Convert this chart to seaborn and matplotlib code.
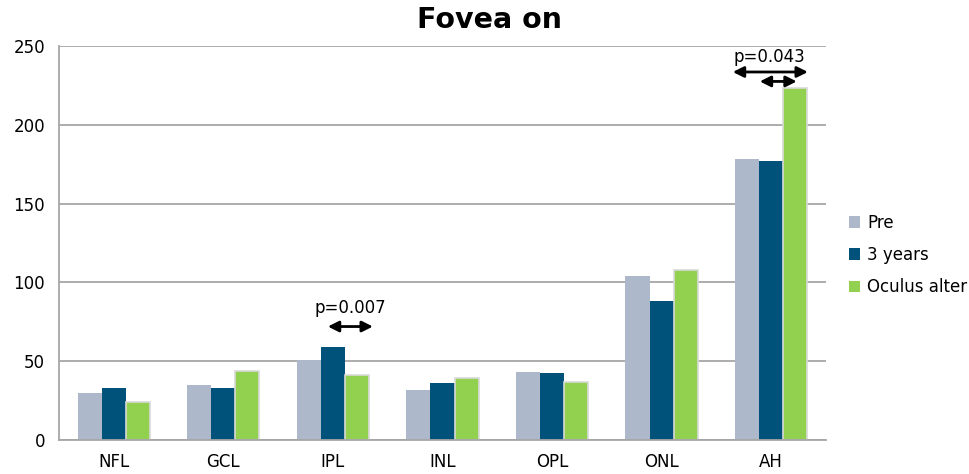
import matplotlib
matplotlib.use("Agg")
from matplotlib import pyplot as plt
import seaborn as sns
import pandas as pd

layers = ["NFL", "GCL", "IPL", "INL", "OPL", "ONL", "AH"]
groups = ["Pre", "3 years", "Oculus alter"]
pre = [30, 35, 51, 32, 43, 104, 178]
three_years = [33, 33, 59, 36, 42.5, 88, 177]
oculus_alter = [24, 44, 41, 39.5, 37, 108, 223.5]
colors = ["#ADB9CA", "#00527A", "#92D050"]

df = pd.DataFrame({
    "layer": layers * 3,
    "group": [g for g in groups for _ in layers],
    "value": pre + three_years + oculus_alter,
})

sns.set_theme(style="white")
plt.rcParams["font.family"] = ["DejaVu Sans"]
plt.rcParams["text.color"] = "black"

fig = plt.figure(figsize=(9.7, 4.74), dpi=100)
ax = fig.add_axes([0.0608, 0.0717, 0.7907, 0.8313])

sns.barplot(data=df, x="layer", y="value", hue="group", order=layers,
            hue_order=groups, palette=colors, width=0.66, gap=0,
            saturation=1, linewidth=0, ax=ax, legend=True)

# light outline on the green bars only
for bar in ax.containers[2]:
    bar.set_edgecolor("#D9D9D9")
    bar.set_linewidth(1.2)

ax.set_ylim(0, 250)
ax.set_xlim(-0.5, len(layers) - 0.5)
ax.set_yticks(range(0, 251, 50))
ax.yaxis.grid(True, color="#A6A6A6", linewidth=1.3)
ax.set_axisbelow(True)
ax.set_xlabel("")
ax.set_ylabel("")
for side in ["top", "right"]:
    ax.spines[side].set_visible(False)
for side in ["left", "bottom"]:
    ax.spines[side].set_color("#A6A6A6")
    ax.spines[side].set_linewidth(1.3)
ax.tick_params(axis="both", length=0, labelsize=12, colors="black")
ax.tick_params(axis="x", pad=9)
ax.tick_params(axis="y", pad=10)

fig.text(0.505, 0.958, "Fovea on", fontsize=20.5, fontweight="bold",
         ha="center", va="center")

arrow = dict(arrowstyle="<|-|>", color="black", lw=2,
             mutation_scale=16, shrinkA=0, shrinkB=0)
# IPL: 3 years vs oculus alter
ipl = layers.index("IPL")
ax.annotate("", xy=(ipl - 0.046, 72), xytext=(ipl + 0.365, 72), arrowprops=arrow)
ax.text(ipl + 0.155, 84, "p=0.007", ha="center", va="center", fontsize=12)
# AH
ah = layers.index("AH")
ax.annotate("", xy=(ah - 0.35, 233.5), xytext=(ah + 0.335, 233.5), arrowprops=arrow)
ax.annotate("", xy=(ah - 0.104, 227.5), xytext=(ah + 0.233, 227.5), arrowprops=arrow)
ax.text(ah - 0.013, 243, "p=0.043", ha="center", va="center", fontsize=12)

handles, labels = ax.get_legend_handles_labels()
ax.get_legend().remove()
fig.legend(handles, labels, loc="center left", bbox_to_anchor=(0.868, 0.462),
           frameon=False, fontsize=12, handlelength=0.7, handleheight=0.7,
           handletextpad=0.4, labelspacing=0.85, borderaxespad=0)

fig.savefig("out.png", dpi=100)
